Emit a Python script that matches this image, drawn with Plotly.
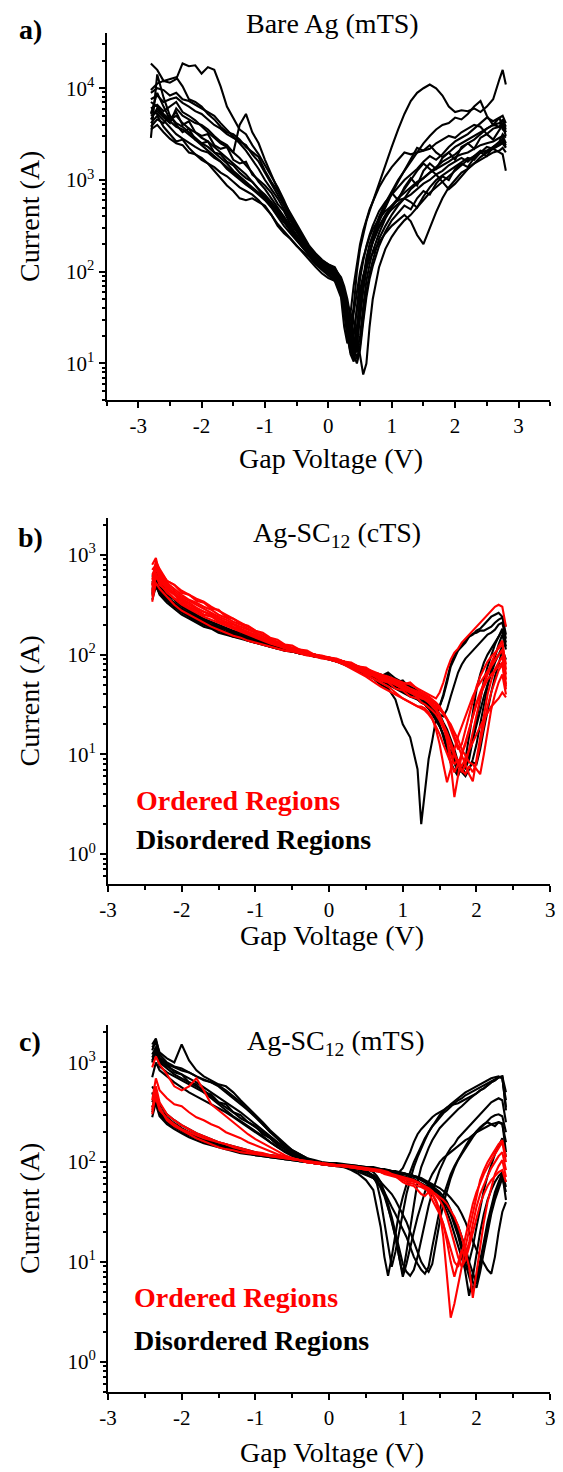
import math
import plotly.graph_objects as go

# ---------------- Panel a: Bare Ag (mTS) ----------------
a_voltage = [-2.8, -2.7, -2.6, -2.5, -2.4, -2.3, -2.2, -2.1, -2.0, -1.9, -1.8, -1.7, -1.6, -1.5,
             -1.4, -1.3, -1.2, -1.1, -1.0, -0.9, -0.8, -0.7, -0.6, -0.5, -0.4, -0.3, -0.2, -0.1,
             0.0, 0.1, 0.2, 0.25, 0.3, 0.35, 0.4, 0.45, 0.5, 0.55, 0.6, 0.65, 0.7,
             0.8, 0.9, 1.0, 1.1, 1.2, 1.3, 1.4, 1.5, 1.6, 1.7, 1.8, 1.9, 2.0, 2.1, 2.2, 2.3,
             2.4, 2.5, 2.6, 2.7, 2.75, 2.8]

# log10(current / A)
a_log_1 = [3.98, 4.05, 4.08, 4.06, 4.10, 4.27, 4.24, 4.25, 4.16, 4.23, 4.20, 4.02, 3.80, 3.68, 3.55, 3.50, 3.38, 3.28, 3.16, 3.05, 2.92, 2.78, 2.62, 2.50, 2.38, 2.26, 2.18, 2.12,
           2.08, 2.04, 1.90, 1.70, 1.45, 1.40, 1.62, 2.00, 2.25, 2.42, 2.55, 2.66, 2.76,
           2.98, 3.18, 3.36, 3.55, 3.72, 3.86, 3.95, 4.00, 4.04, 4.00, 3.92, 3.80, 3.74, 3.76, 3.75, 3.78, 3.74, 3.80, 3.88, 4.10, 4.20, 4.04]
a_log_2 = [4.27, 4.20, 4.08, 4.10, 4.12, 4.02, 3.88, 3.85, 3.80, 3.72, 3.66, 3.58, 3.52, 3.50, 3.44, 3.36, 3.30, 3.25, 3.10, 2.98, 2.88, 2.76, 2.64, 2.52, 2.40, 2.28, 2.20, 2.13,
           2.08, 2.05, 1.92, 1.80, 1.60, 1.30, 1.15, 1.35, 1.70, 1.95, 2.15, 2.30, 2.40,
           2.60, 2.75, 2.88, 3.00, 3.10, 3.20, 3.30, 3.40, 3.48, 3.55, 3.60, 3.62, 3.68, 3.66, 3.72, 3.80, 3.86, 3.70, 3.60, 3.68, 3.55, 3.52]
a_log_3 = [3.46, 4.15, 3.90, 3.70, 3.62, 3.58, 3.52, 3.46, 3.40, 3.36, 3.30, 3.24, 3.18, 3.10, 3.04, 2.98, 2.92, 2.85, 2.80, 2.72, 2.62, 2.54, 2.44, 2.35, 2.26, 2.18, 2.10, 2.04,
           1.98, 1.92, 1.75, 1.55, 1.30, 1.10, 1.02, 1.25, 1.60, 1.85, 2.05, 2.20, 2.32,
           2.50, 2.62, 2.72, 2.80, 2.86, 2.92, 2.98, 3.02, 3.08, 3.12, 3.16, 3.20, 3.25, 3.28, 3.30, 3.34, 3.38, 3.40, 3.42, 3.46, 3.48, 3.40]
a_log_4 = [3.62, 3.70, 3.58, 3.50, 3.42, 3.44, 3.35, 3.28, 3.24, 3.18, 3.10, 3.02, 2.94, 2.88, 2.80, 2.78, 2.80, 2.76, 2.72, 2.62, 2.50, 2.42, 2.36, 2.28, 2.22, 2.16, 2.08, 2.02,
           1.96, 1.90, 1.72, 1.40, 1.22, 1.30, 1.55, 1.80, 2.00, 2.15, 2.28, 2.38, 2.46,
           2.58, 2.66, 2.72, 2.78, 2.80, 2.76, 2.70, 2.82, 2.92, 3.00, 3.05, 3.10, 3.14, 3.20, 3.24, 3.22, 3.30, 3.36, 3.34, 3.38, 3.42, 3.36]
a_log_5 = [3.70, 3.75, 3.68, 3.62, 3.78, 3.70, 3.66, 3.62, 3.60, 3.55, 3.48, 3.42, 3.38, 3.30, 3.60, 3.72, 3.52, 3.40, 3.22, 3.05, 2.90, 2.74, 2.60, 2.48, 2.36, 2.24, 2.16, 2.10,
           2.06, 2.02, 1.88, 1.72, 1.50, 1.20, 1.08, 1.20, 1.50, 1.80, 2.02, 2.20, 2.34,
           2.55, 2.70, 2.85, 2.98, 3.10, 3.22, 3.35, 3.32, 3.38, 3.30, 3.25, 3.30, 3.36, 3.40, 3.44, 3.48, 3.52, 3.56, 3.60, 3.62, 3.65, 3.55]
a_log_6 = [3.55, 3.60, 3.52, 3.45, 3.40, 3.38, 3.30, 3.28, 3.22, 3.18, 3.14, 3.08, 3.04, 2.98, 2.92, 2.88, 2.84, 2.78, 2.70, 2.62, 2.52, 2.44, 2.36, 2.28, 2.20, 2.12, 2.05, 1.98,
           1.93, 1.90, 1.82, 1.75, 1.65, 1.55, 1.45, 1.30, 1.10, 0.88, 1.00, 1.40, 1.70,
           2.05, 2.25, 2.38, 2.48, 2.56, 2.62, 2.70, 2.78, 2.86, 2.92, 2.98, 3.04, 3.10, 3.16, 3.22, 3.26, 3.30, 3.32, 3.36, 3.38, 3.40, 3.35]
a_log_7 = [3.78, 3.82, 3.75, 3.80, 3.85, 3.74, 3.70, 3.65, 3.58, 3.52, 3.46, 3.40, 3.36, 3.30, 3.24, 3.16, 3.08, 2.98, 2.90, 2.80, 2.70, 2.60, 2.50, 2.40, 2.30, 2.22, 2.14, 2.08,
           2.03, 1.98, 1.85, 1.68, 1.45, 1.25, 1.35, 1.58, 1.80, 1.96, 2.06, 2.14, 2.20,
           2.32, 2.42, 2.50, 2.56, 2.62, 2.55, 2.40, 2.30, 2.48, 2.65, 2.80, 2.92, 3.00, 3.08, 3.12, 3.18, 3.22, 3.26, 3.30, 3.32, 3.35, 3.30]
a_log_8 = [3.88, 3.92, 3.85, 3.88, 3.90, 3.84, 3.80, 3.75, 3.72, 3.66, 3.60, 3.56, 3.50, 3.46, 3.42, 3.38, 3.28, 3.20, 3.08, 2.96, 2.84, 2.72, 2.58, 2.46, 2.34, 2.24, 2.16, 2.10,
           2.06, 2.03, 1.94, 1.84, 1.70, 1.50, 1.28, 1.12, 1.30, 1.62, 1.90, 2.08, 2.22,
           2.42, 2.58, 2.70, 2.80, 2.90, 3.00, 3.10, 3.18, 3.12, 3.06, 3.10, 3.16, 3.20, 3.24, 3.20, 3.26, 3.32, 3.30, 3.36, 3.40, 3.45, 3.38]
a_log_9 = [3.66, 3.78, 3.70, 3.64, 3.58, 3.55, 3.50, 3.44, 3.38, 3.32, 3.26, 3.20, 3.14, 3.08, 3.02, 2.96, 2.90, 2.84, 2.78, 2.70, 2.60, 2.50, 2.42, 2.34, 2.25, 2.18, 2.10, 2.04,
           2.00, 1.96, 1.84, 1.66, 1.40, 1.55, 1.85, 2.10, 2.30, 2.45, 2.58, 2.68, 2.76,
           2.92, 3.04, 3.14, 3.22, 3.30, 3.28, 3.30, 3.32, 3.34, 3.40, 3.44, 3.48, 3.46, 3.52, 3.56, 3.60, 3.58, 3.50, 3.56, 3.58, 3.62, 3.52]
a_log_10 = [3.75, 3.72, 3.65, 3.58, 3.50, 3.45, 3.40, 3.36, 3.32, 3.30, 3.24, 3.20, 3.12, 3.06, 3.00, 2.95, 2.90, 2.86, 2.82, 2.74, 2.64, 2.55, 2.46, 2.38, 2.28, 2.20, 2.12, 2.06,
            2.00, 1.96, 1.86, 1.74, 1.55, 1.35, 1.18, 1.40, 1.70, 1.92, 2.10, 2.22, 2.32,
            2.48, 2.60, 2.68, 2.74, 2.80, 2.84, 2.90, 2.96, 3.00, 3.06, 2.98, 2.90, 2.96, 3.04, 3.12, 3.18, 3.25, 3.30, 3.34, 3.30, 3.28, 3.10]
a_log_11 = [3.95, 4.00, 3.98, 3.92, 3.95, 3.88, 3.86, 3.82, 3.78, 3.74, 3.70, 3.62, 3.55, 3.48, 3.40, 3.32, 3.22, 3.12, 3.00, 2.90, 2.80, 2.68, 2.56, 2.44, 2.32, 2.22, 2.14, 2.08,
            2.04, 2.00, 1.88, 1.76, 1.58, 1.38, 1.20, 1.05, 1.20, 1.50, 1.78, 1.98, 2.12,
            2.36, 2.50, 2.62, 2.72, 2.80, 2.90, 2.96, 3.02, 3.08, 3.14, 3.20, 3.24, 3.28, 3.34, 3.40, 3.44, 3.50, 3.56, 3.60, 3.58, 3.66, 3.58]
a_log_12 = [3.85, 3.80, 3.72, 3.66, 3.70, 3.62, 3.56, 3.52, 3.46, 3.42, 3.36, 3.30, 3.24, 3.18, 3.12, 3.06, 2.98, 2.90, 2.84, 2.76, 2.68, 2.58, 2.48, 2.38, 2.30, 2.20, 2.12, 2.05,
            2.00, 1.94, 1.78, 1.58, 1.32, 1.12, 1.30, 1.65, 1.92, 2.12, 2.28, 2.40, 2.50,
            2.66, 2.76, 2.84, 2.92, 3.00, 3.06, 3.12, 3.20, 3.26, 3.22, 3.28, 3.36, 3.42, 3.46, 3.50, 3.56, 3.62, 3.68, 3.64, 3.68, 3.70, 3.62]
a_log_13 = [3.72, 3.95, 3.80, 3.66, 3.74, 3.60, 3.64, 3.52, 3.48, 3.50, 3.38, 3.34, 3.36, 3.22, 3.18, 3.20, 3.06, 3.00, 2.94, 2.86, 2.74, 2.66, 2.52, 2.44, 2.34, 2.24, 2.17, 2.11,
            2.06, 2.00, 1.84, 1.62, 1.38, 1.15, 1.05, 1.22, 1.55, 1.84, 2.06, 2.22, 2.36,
            2.55, 2.74, 2.86, 2.78, 2.92, 3.02, 2.94, 3.10, 3.18, 3.12, 3.24, 3.30, 3.22, 3.36, 3.40, 3.34, 3.46, 3.50, 3.44, 3.54, 3.60, 3.48]
a_log_14 = [3.58, 3.66, 3.62, 3.70, 3.60, 3.52, 3.56, 3.44, 3.40, 3.42, 3.30, 3.28, 3.20, 3.16, 3.08, 3.02, 2.98, 2.90, 2.80, 2.72, 2.66, 2.56, 2.46, 2.36, 2.27, 2.19, 2.12, 2.06,
            2.01, 1.97, 1.86, 1.70, 1.48, 1.28, 1.10, 1.00, 1.15, 1.45, 1.72, 1.92, 2.06,
            2.28, 2.44, 2.56, 2.64, 2.72, 2.68, 2.80, 2.88, 2.84, 2.96, 3.04, 3.00, 3.12, 3.18, 3.14, 3.24, 3.30, 3.26, 3.36, 3.42, 3.50, 3.46]

# ---------------- Panel b: Ag-SC12 (cTS) ----------------
b_voltage = [-2.4, -2.35, -2.3, -2.2, -2.1, -2.0, -1.9, -1.8, -1.7, -1.6, -1.5, -1.4, -1.3, -1.2,
             -1.1, -1.0, -0.9, -0.8, -0.7, -0.6, -0.5, -0.4, -0.3, -0.2, -0.1,
             0.0, 0.1, 0.2, 0.3, 0.4, 0.5, 0.6, 0.7, 0.8, 0.9, 1.0, 1.1, 1.2,
             1.25, 1.3, 1.35, 1.4, 1.45, 1.5, 1.55, 1.6, 1.65, 1.7, 1.75, 1.8, 1.85, 1.9,
             1.95, 2.0, 2.05, 2.1, 2.15, 2.2, 2.25, 2.3, 2.35, 2.4]

b_dis_1 = [2.72, 2.80, 2.68, 2.58, 2.52, 2.46, 2.42, 2.38, 2.34, 2.30, 2.28, 2.25, 2.22, 2.20, 2.18, 2.14, 2.12, 2.09, 2.07, 2.05, 2.04, 2.02, 2.00, 1.99, 1.98,
           1.96, 1.94, 1.92, 1.88, 1.85, 1.80, 1.76, 1.70, 1.66, 1.55, 1.30, 1.17, 0.85,
           0.30, 0.60, 0.95, 1.14, 1.35, 1.48, 1.58, 1.72, 1.88, 1.96, 2.04, 2.08, 2.12, 2.18, 2.21, 2.22, 2.24, 2.24, 2.26, 2.28, 2.32, 2.35, 2.37, 2.28]
b_dis_2 = [2.78, 2.85, 2.75, 2.62, 2.56, 2.50, 2.45, 2.40, 2.36, 2.33, 2.30, 2.27, 2.24, 2.22, 2.19, 2.16, 2.13, 2.10, 2.08, 2.06, 2.04, 2.03, 2.01, 2.00, 1.98,
           1.97, 1.95, 1.92, 1.90, 1.86, 1.83, 1.80, 1.76, 1.78, 1.72, 1.68, 1.62, 1.58,
           1.55, 1.52, 1.48, 1.45, 1.42, 1.48, 1.60, 1.75, 1.90, 2.00, 2.05, 2.10, 2.14, 2.18, 2.20, 2.24, 2.26, 2.30, 2.34, 2.38, 2.40, 2.42, 2.38, 2.20]
b_dis_3 = [2.62, 2.70, 2.60, 2.52, 2.46, 2.40, 2.36, 2.32, 2.28, 2.26, 2.22, 2.20, 2.18, 2.16, 2.14, 2.12, 2.10, 2.08, 2.06, 2.04, 2.03, 2.01, 2.00, 1.98, 1.97,
           1.96, 1.94, 1.92, 1.90, 1.87, 1.84, 1.81, 1.78, 1.76, 1.72, 1.70, 1.66, 1.62,
           1.60, 1.56, 1.54, 1.50, 1.44, 1.38, 1.30, 1.20, 1.10, 0.95, 0.80, 0.85, 0.90, 1.00, 1.15, 1.30, 1.45, 1.58, 1.70, 1.82, 1.92, 2.00, 2.08, 2.10]
b_dis_4 = [2.66, 2.75, 2.65, 2.56, 2.50, 2.45, 2.40, 2.36, 2.32, 2.29, 2.26, 2.23, 2.21, 2.19, 2.16, 2.14, 2.11, 2.09, 2.07, 2.05, 2.03, 2.02, 2.00, 1.99, 1.97,
           1.95, 1.93, 1.91, 1.88, 1.86, 1.82, 1.80, 1.78, 1.82, 1.76, 1.72, 1.68, 1.64,
           1.60, 1.58, 1.55, 1.50, 1.46, 1.40, 1.32, 1.25, 1.15, 1.05, 0.92, 0.85, 0.95, 1.20, 1.45, 1.65, 1.80, 1.92, 2.00, 2.06, 2.12, 2.18, 2.26, 2.12]
b_dis_5 = [2.55, 2.68, 2.62, 2.54, 2.48, 2.42, 2.38, 2.33, 2.30, 2.27, 2.24, 2.21, 2.18, 2.17, 2.14, 2.12, 2.10, 2.08, 2.06, 2.05, 2.03, 2.01, 2.00, 1.98, 1.97,
           1.95, 1.93, 1.90, 1.87, 1.83, 1.80, 1.77, 1.74, 1.70, 1.66, 1.62, 1.58, 1.55,
           1.52, 1.50, 1.46, 1.42, 1.36, 1.28, 1.20, 1.10, 1.00, 0.90, 0.82, 0.88, 0.80, 0.86, 0.92, 0.90, 1.05, 1.25, 1.45, 1.62, 1.78, 1.90, 2.05, 1.95]
b_dis_6 = [2.70, 2.78, 2.70, 2.60, 2.55, 2.48, 2.44, 2.39, 2.35, 2.32, 2.28, 2.26, 2.23, 2.20, 2.18, 2.15, 2.13, 2.10, 2.08, 2.06, 2.04, 2.02, 2.01, 1.99, 1.98,
           1.96, 1.95, 1.93, 1.90, 1.88, 1.85, 1.82, 1.80, 1.77, 1.74, 1.70, 1.66, 1.60,
           1.56, 1.52, 1.50, 1.48, 1.44, 1.40, 1.38, 1.45, 1.58, 1.70, 1.82, 1.90, 1.96, 2.00, 2.04, 2.08, 2.12, 2.16, 2.20, 2.22, 2.25, 2.30, 2.32, 2.16]
b_dis_7 = [2.64, 2.74, 2.66, 2.58, 2.50, 2.44, 2.38, 2.34, 2.31, 2.28, 2.25, 2.22, 2.20, 2.18, 2.16, 2.13, 2.11, 2.09, 2.07, 2.05, 2.03, 2.02, 2.00, 1.99, 1.97,
           1.96, 1.94, 1.91, 1.88, 1.85, 1.82, 1.78, 1.75, 1.72, 1.68, 1.64, 1.60, 1.55,
           1.52, 1.50, 1.46, 1.40, 1.34, 1.28, 1.20, 1.10, 1.02, 0.95, 0.88, 0.82, 0.78, 0.85, 0.95, 1.10, 1.30, 1.50, 1.68, 1.85, 1.98, 2.10, 2.20, 2.05]
b_dis_8 = [2.60, 2.76, 2.64, 2.55, 2.52, 2.44, 2.42, 2.35, 2.33, 2.28, 2.27, 2.22, 2.21, 2.17, 2.16, 2.12, 2.11, 2.08, 2.07, 2.04, 2.04, 2.01, 2.00, 1.98, 1.97,
           1.96, 1.93, 1.92, 1.88, 1.87, 1.82, 1.82, 1.76, 1.80, 1.72, 1.74, 1.66, 1.62,
           1.58, 1.55, 1.50, 1.44, 1.38, 1.30, 1.18, 1.05, 0.92, 0.84, 0.78, 0.90, 0.86, 0.95, 1.15, 1.38, 1.58, 1.74, 1.88, 2.00, 2.10, 2.18, 2.24, 2.08]

b_ord_1 = [2.90, 2.97, 2.80, 2.70, 2.64, 2.58, 2.54, 2.50, 2.46, 2.42, 2.38, 2.35, 2.31, 2.28, 2.25, 2.22, 2.18, 2.14, 2.11, 2.08, 2.06, 2.04, 2.02, 2.00, 1.98,
           1.96, 1.95, 1.93, 1.91, 1.88, 1.86, 1.83, 1.80, 1.78, 1.75, 1.72, 1.70, 1.66,
           1.64, 1.62, 1.60, 1.58, 1.56, 1.62, 1.72, 1.85, 1.95, 2.02, 2.06, 2.12, 2.16, 2.20, 2.24, 2.28, 2.32, 2.36, 2.40, 2.44, 2.48, 2.50, 2.48, 2.28]
b_ord_2 = [2.58, 2.80, 2.74, 2.66, 2.60, 2.52, 2.48, 2.44, 2.40, 2.38, 2.34, 2.30, 2.27, 2.24, 2.21, 2.18, 2.15, 2.12, 2.09, 2.07, 2.05, 2.03, 2.01, 1.99, 1.98,
           1.96, 1.94, 1.92, 1.88, 1.85, 1.80, 1.76, 1.72, 1.68, 1.62, 1.56, 1.52, 1.48,
           1.48, 1.46, 1.42, 1.36, 1.25, 1.10, 0.90, 0.72, 0.85, 1.05, 1.18, 1.28, 1.40, 1.50, 1.58, 1.66, 1.72, 1.78, 1.84, 1.90, 1.95, 2.00, 2.04, 1.80]
b_ord_3 = [2.75, 2.92, 2.82, 2.72, 2.66, 2.60, 2.55, 2.52, 2.48, 2.45, 2.40, 2.37, 2.33, 2.30, 2.26, 2.22, 2.18, 2.15, 2.12, 2.09, 2.06, 2.04, 2.02, 2.00, 1.98,
           1.97, 1.95, 1.93, 1.90, 1.87, 1.84, 1.80, 1.78, 1.74, 1.70, 1.66, 1.62, 1.60,
           1.58, 1.56, 1.54, 1.50, 1.46, 1.40, 1.30, 1.15, 0.90, 0.57, 0.80, 1.00, 1.10, 1.25, 1.40, 1.52, 1.62, 1.72, 1.80, 1.88, 1.94, 2.00, 2.05, 1.75]
b_ord_4 = [2.68, 2.86, 2.78, 2.68, 2.62, 2.56, 2.52, 2.47, 2.43, 2.40, 2.36, 2.33, 2.30, 2.26, 2.23, 2.20, 2.16, 2.13, 2.10, 2.08, 2.05, 2.03, 2.01, 1.99, 1.97,
           1.96, 1.94, 1.92, 1.89, 1.86, 1.83, 1.81, 1.78, 1.75, 1.72, 1.68, 1.64, 1.62,
           1.60, 1.58, 1.56, 1.54, 1.50, 1.46, 1.42, 1.36, 1.28, 1.18, 1.08, 0.98, 0.88, 0.80, 0.73, 0.95, 1.20, 1.42, 1.60, 1.74, 1.85, 1.92, 1.98, 1.70]
b_ord_5 = [2.62, 2.78, 2.72, 2.62, 2.56, 2.50, 2.46, 2.42, 2.38, 2.35, 2.32, 2.29, 2.26, 2.23, 2.20, 2.17, 2.14, 2.11, 2.09, 2.06, 2.04, 2.02, 2.00, 1.98, 1.97,
           1.95, 1.93, 1.91, 1.88, 1.84, 1.82, 1.79, 1.76, 1.74, 1.70, 1.66, 1.62, 1.58,
           1.56, 1.55, 1.52, 1.50, 1.48, 1.45, 1.40, 1.36, 1.30, 1.22, 1.15, 1.05, 0.98, 0.92, 0.90, 0.85, 0.80, 1.00, 1.25, 1.45, 1.60, 1.72, 1.80, 1.60]
b_ord_6 = [2.85, 2.90, 2.76, 2.66, 2.60, 2.55, 2.50, 2.46, 2.43, 2.40, 2.36, 2.32, 2.28, 2.25, 2.22, 2.19, 2.16, 2.13, 2.10, 2.07, 2.05, 2.03, 2.01, 1.99, 1.97,
           1.96, 1.94, 1.91, 1.88, 1.85, 1.82, 1.79, 1.76, 1.73, 1.70, 1.66, 1.63, 1.60,
           1.57, 1.55, 1.52, 1.48, 1.44, 1.38, 1.30, 1.22, 1.12, 1.02, 0.92, 0.88, 0.96, 1.05, 1.12, 1.20, 1.28, 1.35, 1.42, 1.48, 1.52, 1.56, 1.62, 1.57]
b_ord_7 = [2.53, 2.72, 2.66, 2.58, 2.50, 2.44, 2.40, 2.36, 2.32, 2.28, 2.25, 2.22, 2.19, 2.17, 2.14, 2.12, 2.10, 2.08, 2.06, 2.04, 2.03, 2.01, 1.99, 1.98, 1.96,
           1.95, 1.93, 1.90, 1.86, 1.82, 1.78, 1.73, 1.68, 1.64, 1.60, 1.56, 1.52, 1.48,
           1.46, 1.44, 1.40, 1.35, 1.28, 1.20, 1.10, 1.00, 0.92, 0.82, 0.90, 1.00, 1.12, 1.25, 1.38, 1.50, 1.60, 1.68, 1.75, 1.80, 1.84, 1.88, 1.92, 1.65]
b_ord_8 = [2.80, 2.88, 2.84, 2.74, 2.70, 2.64, 2.60, 2.56, 2.53, 2.48, 2.44, 2.40, 2.36, 2.32, 2.28, 2.24, 2.20, 2.16, 2.13, 2.10, 2.07, 2.05, 2.02, 2.00, 1.98,
           1.97, 1.95, 1.93, 1.90, 1.87, 1.84, 1.81, 1.78, 1.75, 1.73, 1.70, 1.66, 1.63,
           1.62, 1.60, 1.58, 1.55, 1.52, 1.48, 1.42, 1.35, 1.25, 1.15, 1.05, 1.10, 1.25, 1.40, 1.55, 1.68, 1.78, 1.86, 1.93, 1.98, 2.02, 2.06, 2.10, 1.90]
b_ord_9 = [2.70, 2.94, 2.86, 2.74, 2.70, 2.62, 2.60, 2.54, 2.52, 2.46, 2.45, 2.38, 2.36, 2.31, 2.29, 2.24, 2.22, 2.17, 2.15, 2.10, 2.09, 2.05, 2.04, 2.00, 1.99,
           1.97, 1.96, 1.93, 1.92, 1.88, 1.87, 1.82, 1.80, 1.76, 1.74, 1.70, 1.72, 1.65,
           1.62, 1.60, 1.56, 1.52, 1.46, 1.38, 1.28, 1.15, 1.00, 0.90, 0.95, 0.82, 0.90, 1.05, 1.22, 1.40, 1.56, 1.70, 1.82, 1.92, 2.00, 2.08, 2.14, 1.85]
b_ord_10 = [2.64, 2.82, 2.70, 2.64, 2.56, 2.54, 2.47, 2.45, 2.40, 2.39, 2.33, 2.32, 2.27, 2.26, 2.21, 2.20, 2.15, 2.14, 2.10, 2.09, 2.05, 2.04, 2.01, 2.00, 1.97,
            1.96, 1.93, 1.92, 1.87, 1.86, 1.80, 1.79, 1.74, 1.72, 1.66, 1.64, 1.58, 1.56,
            1.52, 1.50, 1.47, 1.44, 1.40, 1.34, 1.26, 1.18, 1.08, 0.98, 0.90, 0.84, 0.80, 0.88, 0.82, 0.92, 1.10, 1.30, 1.48, 1.62, 1.74, 1.84, 1.90, 1.68]

# ---------------- Panel c: Ag-SC12 (mTS) ----------------
c_voltage = [-2.4, -2.35, -2.3, -2.2, -2.1, -2.0, -1.9, -1.8, -1.7, -1.6, -1.5, -1.4, -1.3, -1.2,
             -1.1, -1.0, -0.9, -0.8, -0.7, -0.6, -0.5, -0.4, -0.3, -0.2, -0.1,
             0.0, 0.1, 0.2, 0.3, 0.4, 0.5,
             0.6, 0.65, 0.7, 0.75, 0.8, 0.85, 0.9, 0.95, 1.0, 1.05, 1.1, 1.15, 1.2, 1.25,
             1.3, 1.35, 1.4, 1.45, 1.5,
             1.55, 1.6, 1.65, 1.7, 1.75, 1.8, 1.85, 1.9, 1.95, 2.0, 2.05, 2.1, 2.15, 2.2,
             2.25, 2.3, 2.35, 2.4]

c_dis_1 = [3.12, 3.22, 3.10, 3.04, 3.00, 3.18, 3.02, 2.92, 2.86, 2.82, 2.78, 2.76, 2.70, 2.62, 2.55, 2.48, 2.40, 2.32, 2.25, 2.18, 2.12, 2.08, 2.04, 2.02, 2.00,
           1.99, 1.99, 1.98, 1.97, 1.96, 1.94,
           1.90, 1.86, 1.80, 1.70, 1.55, 1.40, 1.25, 1.05, 0.88, 1.10, 1.35, 1.60, 1.80, 1.95, 2.05, 2.14, 2.22, 2.28, 2.34,
           2.38, 2.42, 2.46, 2.50, 2.53, 2.56, 2.60, 2.63, 2.66, 2.69, 2.72, 2.74, 2.77, 2.80, 2.82, 2.85, 2.86, 2.70]
c_dis_2 = [3.08, 3.15, 3.05, 2.98, 2.95, 2.92, 2.90, 2.86, 2.82, 2.80, 2.77, 2.72, 2.66, 2.60, 2.52, 2.46, 2.38, 2.30, 2.24, 2.17, 2.12, 2.08, 2.04, 2.01, 1.99,
           1.98, 1.98, 1.97, 1.96, 1.95, 1.94,
           1.93, 1.92, 1.91, 1.90, 1.90, 1.89, 1.89, 1.90, 1.94, 2.02, 2.10, 2.20, 2.28, 2.33, 2.37, 2.42, 2.45, 2.48, 2.50,
           2.52, 2.55, 2.57, 2.58, 2.59, 2.61, 2.63, 2.65, 2.67, 2.69, 2.72, 2.74, 2.77, 2.80, 2.82, 2.85, 2.86, 2.52]
c_dis_3 = [3.15, 3.20, 3.02, 2.96, 2.92, 2.88, 2.84, 2.80, 2.75, 2.70, 2.65, 2.60, 2.55, 2.50, 2.44, 2.38, 2.32, 2.26, 2.20, 2.15, 2.10, 2.06, 2.03, 2.01, 1.99,
           1.98, 1.97, 1.97, 1.96, 1.94, 1.92,
           1.86, 1.78, 1.62, 1.40, 1.15, 0.95, 1.10, 1.30, 1.50, 1.68, 1.82, 1.95, 2.05, 2.14, 2.22, 2.30, 2.36, 2.42, 2.47,
           2.51, 2.55, 2.58, 2.61, 2.64, 2.67, 2.70, 2.72, 2.74, 2.76, 2.78, 2.80, 2.82, 2.84, 2.85, 2.86, 2.84, 2.62]
c_dis_4 = [3.05, 3.12, 3.00, 2.94, 2.88, 2.84, 2.80, 2.76, 2.72, 2.66, 2.60, 2.55, 2.50, 2.44, 2.40, 2.35, 2.30, 2.24, 2.18, 2.13, 2.09, 2.05, 2.02, 2.00, 1.99,
           1.98, 1.97, 1.96, 1.94, 1.92, 1.88,
           1.84, 1.80, 1.76, 1.70, 1.62, 1.55, 1.48, 1.40, 1.32, 1.25, 1.15, 1.05, 0.98, 0.92, 0.88, 0.95, 1.15, 1.35, 1.52,
           1.66, 1.78, 1.88, 1.96, 2.03, 2.10, 2.16, 2.22, 2.27, 2.31, 2.35, 2.38, 2.40, 2.38, 2.36, 2.40, 2.39, 2.10]
c_dis_5 = [3.02, 3.10, 2.96, 2.90, 2.86, 2.82, 2.78, 2.74, 2.70, 2.64, 2.58, 2.52, 2.46, 2.41, 2.36, 2.31, 2.26, 2.20, 2.15, 2.11, 2.07, 2.04, 2.02, 2.00, 1.98,
           1.97, 1.97, 1.96, 1.95, 1.93, 1.90,
           1.87, 1.84, 1.80, 1.76, 1.72, 1.68, 1.62, 1.55, 1.48, 1.40, 1.30, 1.20, 1.10, 1.00, 0.94, 0.90, 0.98, 1.20, 1.40,
           1.58, 1.72, 1.84, 1.94, 2.02, 2.08, 2.14, 2.20, 2.25, 2.30, 2.34, 2.38, 2.42, 2.45, 2.47, 2.48, 2.46, 2.30]
c_dis_6 = [3.18, 3.24, 3.08, 3.00, 2.96, 2.94, 2.90, 2.86, 2.83, 2.80, 2.76, 2.70, 2.64, 2.58, 2.52, 2.45, 2.38, 2.30, 2.23, 2.16, 2.11, 2.07, 2.03, 2.01, 1.99,
           1.98, 1.97, 1.95, 1.92, 1.88, 1.82,
           1.72, 1.55, 1.35, 1.05, 0.86, 1.05, 1.30, 1.50, 1.65, 1.78, 1.90, 2.00, 2.08, 2.16, 2.24, 2.30, 2.36, 2.40, 2.45,
           2.49, 2.52, 2.56, 2.59, 2.62, 2.64, 2.67, 2.69, 2.71, 2.73, 2.75, 2.77, 2.79, 2.81, 2.83, 2.85, 2.85, 2.55]
c_dis_7 = [2.85, 3.00, 2.92, 2.86, 2.80, 2.75, 2.70, 2.66, 2.62, 2.58, 2.54, 2.50, 2.45, 2.40, 2.35, 2.30, 2.25, 2.20, 2.15, 2.10, 2.06, 2.03, 2.01, 1.99, 1.98,
           1.97, 1.96, 1.95, 1.93, 1.90, 1.87,
           1.84, 1.80, 1.74, 1.66, 1.55, 1.42, 1.25, 1.05, 0.85, 0.98, 1.15, 1.30, 1.45, 1.58, 1.70, 1.80, 1.88, 1.94, 2.00,
           2.04, 2.07, 2.10, 2.13, 2.16, 2.19, 2.22, 2.24, 2.27, 2.30, 2.32, 2.34, 2.36, 2.38, 2.39, 2.40, 2.38, 2.20]
c_dis_8 = [2.50, 2.62, 2.48, 2.40, 2.35, 2.31, 2.27, 2.24, 2.21, 2.18, 2.16, 2.14, 2.12, 2.10, 2.09, 2.07, 2.06, 2.05, 2.04, 2.03, 2.02, 2.01, 2.00, 1.99, 1.98,
           1.98, 1.97, 1.97, 1.96, 1.95, 1.94,
           1.93, 1.92, 1.92, 1.91, 1.90, 1.90, 1.89, 1.88, 1.88, 1.87, 1.86, 1.85, 1.84, 1.82, 1.80, 1.78, 1.76, 1.73, 1.70,
           1.66, 1.60, 1.52, 1.42, 1.30, 1.12, 0.90, 0.66, 0.85, 1.10, 1.30, 1.48, 1.62, 1.72, 1.80, 1.86, 1.90, 1.80]
c_dis_9 = [2.76, 2.70, 2.58, 2.48, 2.42, 2.37, 2.33, 2.29, 2.26, 2.23, 2.20, 2.18, 2.16, 2.14, 2.12, 2.10, 2.08, 2.07, 2.06, 2.04, 2.03, 2.02, 2.01, 2.00, 1.99,
           1.98, 1.98, 1.97, 1.96, 1.96, 1.95,
           1.94, 1.94, 1.93, 1.92, 1.92, 1.91, 1.90, 1.90, 1.89, 1.88, 1.87, 1.86, 1.84, 1.82, 1.80, 1.77, 1.74, 1.70, 1.66,
           1.60, 1.55, 1.48, 1.40, 1.30, 1.18, 1.05, 0.92, 0.80, 0.74, 0.90, 1.10, 1.30, 1.48, 1.62, 1.74, 1.84, 1.70]
c_dis_10 = [2.60, 2.68, 2.52, 2.44, 2.38, 2.33, 2.29, 2.26, 2.23, 2.20, 2.18, 2.15, 2.13, 2.12, 2.10, 2.09, 2.07, 2.06, 2.05, 2.04, 2.03, 2.02, 2.01, 2.00, 1.99,
            1.98, 1.98, 1.97, 1.97, 1.96, 1.95,
            1.95, 1.94, 1.93, 1.93, 1.92, 1.91, 1.91, 1.90, 1.89, 1.88, 1.87, 1.86, 1.85, 1.84, 1.82, 1.80, 1.78, 1.76, 1.74,
            1.71, 1.68, 1.64, 1.60, 1.55, 1.48, 1.40, 1.30, 1.20, 1.12, 1.05, 0.98, 0.92, 0.88, 1.05, 1.30, 1.50, 1.60]
c_dis_11 = [2.70, 2.58, 2.46, 2.38, 2.33, 2.29, 2.25, 2.22, 2.19, 2.17, 2.15, 2.13, 2.11, 2.09, 2.08, 2.07, 2.06, 2.05, 2.04, 2.03, 2.02, 2.01, 2.00, 1.99, 1.98,
            1.97, 1.97, 1.96, 1.95, 1.94, 1.93,
            1.92, 1.91, 1.90, 1.89, 1.88, 1.87, 1.86, 1.85, 1.84, 1.83, 1.82, 1.81, 1.80, 1.78, 1.76, 1.74, 1.72, 1.68, 1.64,
            1.58, 1.50, 1.40, 1.28, 1.15, 1.02, 0.92, 1.00, 1.15, 1.35, 1.55, 1.72, 1.86, 1.98, 2.08, 2.16, 2.24, 2.05]
c_dis_12 = [2.55, 2.66, 2.54, 2.45, 2.39, 2.34, 2.30, 2.27, 2.24, 2.21, 2.19, 2.16, 2.14, 2.12, 2.11, 2.09, 2.08, 2.06, 2.05, 2.04, 2.03, 2.02, 2.01, 2.00, 1.99,
            1.98, 1.97, 1.96, 1.96, 1.95, 1.94,
            1.93, 1.92, 1.91, 1.91, 1.90, 1.89, 1.88, 1.87, 1.86, 1.85, 1.84, 1.83, 1.81, 1.79, 1.77, 1.75, 1.72, 1.69, 1.65,
            1.61, 1.56, 1.50, 1.44, 1.36, 1.26, 1.14, 1.00, 0.88, 0.78, 0.95, 1.15, 1.35, 1.52, 1.66, 1.78, 1.90, 1.75]
c_dis_13 = [3.00, 3.16, 3.04, 2.98, 2.90, 2.88, 2.80, 2.78, 2.70, 2.68, 2.60, 2.58, 2.50, 2.47, 2.40, 2.36, 2.28, 2.24, 2.17, 2.13, 2.08, 2.06, 2.02, 2.01, 1.99,
            1.98, 1.98, 1.97, 1.95, 1.93, 1.90,
            1.86, 1.82, 1.76, 1.68, 1.58, 1.45, 1.30, 1.12, 0.98, 0.90, 0.86, 0.92, 1.05, 1.22, 1.40, 1.56, 1.70, 1.82, 1.92,
            2.00, 2.08, 2.14, 2.18, 2.24, 2.28, 2.32, 2.36, 2.40, 2.44, 2.48, 2.52, 2.56, 2.60, 2.62, 2.64, 2.62, 2.40]
c_dis_14 = [2.45, 2.60, 2.50, 2.42, 2.38, 2.32, 2.30, 2.25, 2.23, 2.19, 2.18, 2.14, 2.13, 2.10, 2.10, 2.07, 2.07, 2.05, 2.05, 2.03, 2.03, 2.01, 2.01, 1.99, 1.99,
            1.98, 1.97, 1.97, 1.96, 1.95, 1.94,
            1.93, 1.93, 1.92, 1.92, 1.91, 1.90, 1.90, 1.89, 1.89, 1.88, 1.87, 1.86, 1.85, 1.83, 1.81, 1.79, 1.76, 1.72, 1.68,
            1.62, 1.56, 1.48, 1.38, 1.26, 1.12, 0.98, 0.85, 0.72, 0.82, 1.00, 1.20, 1.40, 1.56, 1.70, 1.80, 1.88, 1.62]

c_ord_1 = [2.95, 3.06, 2.98, 2.88, 2.76, 2.72, 2.76, 2.84, 2.72, 2.58, 2.52, 2.46, 2.40, 2.34, 2.28, 2.23, 2.19, 2.15, 2.11, 2.07, 2.04, 2.02, 2.00, 1.99, 1.98,
           1.98, 1.97, 1.96, 1.95, 1.94, 1.93,
           1.92, 1.91, 1.90, 1.89, 1.88, 1.87, 1.86, 1.85, 1.84, 1.83, 1.82, 1.81, 1.80, 1.78, 1.74, 1.70, 1.68, 1.62, 1.52,
           1.25, 0.85, 0.44, 0.58, 0.75, 0.95, 1.15, 1.32, 1.50, 1.68, 1.82, 1.92, 2.00, 2.06, 2.12, 2.18, 2.22, 2.05]
c_ord_2 = [2.62, 2.84, 2.72, 2.64, 2.58, 2.56, 2.50, 2.45, 2.42, 2.38, 2.35, 2.30, 2.27, 2.24, 2.20, 2.17, 2.14, 2.11, 2.08, 2.06, 2.04, 2.02, 2.00, 1.99, 1.98,
           1.97, 1.97, 1.96, 1.95, 1.94, 1.93,
           1.92, 1.91, 1.90, 1.89, 1.88, 1.87, 1.86, 1.84, 1.82, 1.80, 1.79, 1.78, 1.76, 1.75, 1.73, 1.72, 1.70, 1.68, 1.65,
           1.62, 1.58, 1.52, 1.45, 1.36, 1.25, 1.10, 0.95, 0.64, 0.90, 1.15, 1.40, 1.60, 1.75, 1.88, 1.96, 2.02, 1.85]
c_ord_3 = [2.48, 2.70, 2.55, 2.42, 2.36, 2.32, 2.28, 2.24, 2.21, 2.18, 2.15, 2.13, 2.12, 2.10, 2.09, 2.08, 2.07, 2.06, 2.05, 2.04, 2.03, 2.02, 2.01, 2.00, 1.99,
           1.98, 1.97, 1.97, 1.96, 1.95, 1.94,
           1.93, 1.93, 1.92, 1.91, 1.90, 1.88, 1.86, 1.83, 1.80, 1.78, 1.77, 1.76, 1.72, 1.68, 1.66, 1.70, 1.62, 1.55, 1.48,
           1.38, 1.25, 1.12, 1.00, 0.95, 1.08, 1.25, 1.42, 1.58, 1.70, 1.80, 1.88, 1.95, 2.02, 2.08, 2.14, 2.20, 2.00]
c_ord_4 = [2.55, 2.64, 2.52, 2.44, 2.38, 2.33, 2.30, 2.27, 2.24, 2.22, 2.20, 2.18, 2.16, 2.14, 2.12, 2.10, 2.09, 2.07, 2.06, 2.05, 2.03, 2.02, 2.01, 2.00, 1.99,
           1.98, 1.97, 1.96, 1.96, 1.95, 1.94,
           1.93, 1.92, 1.91, 1.90, 1.89, 1.88, 1.87, 1.86, 1.85, 1.84, 1.83, 1.82, 1.80, 1.78, 1.76, 1.74, 1.71, 1.67, 1.62,
           1.55, 1.45, 1.32, 1.18, 1.05, 0.95, 1.02, 1.15, 1.30, 1.45, 1.58, 1.68, 1.76, 1.82, 1.86, 1.90, 1.92, 1.80]
c_ord_5 = [2.52, 2.76, 2.60, 2.48, 2.42, 2.37, 2.33, 2.29, 2.26, 2.23, 2.20, 2.18, 2.15, 2.13, 2.11, 2.09, 2.08, 2.06, 2.05, 2.04, 2.03, 2.02, 2.00, 1.99, 1.98,
           1.97, 1.96, 1.96, 1.95, 1.94, 1.93,
           1.92, 1.91, 1.90, 1.88, 1.87, 1.86, 1.85, 1.84, 1.83, 1.82, 1.81, 1.80, 1.79, 1.77, 1.75, 1.72, 1.68, 1.60, 1.50,
           1.38, 1.20, 1.00, 0.85, 0.98, 1.12, 1.06, 1.20, 1.38, 1.55, 1.68, 1.78, 1.86, 1.94, 2.00, 2.06, 2.10, 1.92]

# ---------------- text ----------------
panel_titles = ["Bare Ag (mTS)", "Ag-SC<sub>12</sub> (cTS)", "Ag-SC<sub>12</sub> (mTS)"]
panel_letters = ["a)", "b)", "c)"]
x_title = "Gap Voltage (V)"
y_title = "Current (A)"
legend_ordered = "Ordered Regions"
legend_disordered = "Disordered Regions"

# ---------------- figure ----------------
W, H = 563, 1472
FONT = "Times New Roman"
RED = "#ff0000"
BLACK = "#000000"


def px(x):
    return x / W


def py(y):
    return 1 - y / H


panels = [
    dict(v=a_voltage,
         black=[a_log_1, a_log_2, a_log_3, a_log_4, a_log_5, a_log_6, a_log_7, a_log_8,
                a_log_9, a_log_10, a_log_11, a_log_12, a_log_13, a_log_14],
         red=[]),
    dict(v=b_voltage,
         black=[b_dis_1, b_dis_2, b_dis_3, b_dis_4, b_dis_5, b_dis_6, b_dis_7, b_dis_8],
         red=[b_ord_1, b_ord_2, b_ord_3, b_ord_4, b_ord_5, b_ord_6, b_ord_7, b_ord_8,
              b_ord_9, b_ord_10]),
    dict(v=c_voltage,
         black=[c_dis_1, c_dis_2, c_dis_3, c_dis_4, c_dis_5, c_dis_6, c_dis_7, c_dis_8,
                c_dis_9, c_dis_10, c_dis_11, c_dis_12, c_dis_13, c_dis_14],
         red=[c_ord_1, c_ord_2, c_ord_3, c_ord_4, c_ord_5]),
]

fig = go.Figure()
for i, p in enumerate(panels):
    xa = "x" if i == 0 else f"x{i+1}"
    ya = "y" if i == 0 else f"y{i+1}"
    for color, group in ((BLACK, p["black"]), (RED, p["red"])):
        for curve in group:
            if len(curve) != len(p["v"]):
                raise ValueError(f"panel {i} length {len(curve)} vs {len(p['v'])}")
            fig.add_trace(go.Scatter(
                x=p["v"], y=[10 ** c for c in curve], mode="lines",
                line=dict(color=color, width=2.1), xaxis=xa, yaxis=ya,
                showlegend=False, hoverinfo="skip"))

# geometry (pixels)
plot_left = [100, 101.5, 101.5]
plot_right = [555, 555, 555]
plot_top = [33, 518, 1025]
plot_bottom = [400, 884, 1392]
x_ranges = [[-3.5, 3.5], [-3, 3], [-3, 3]]
y_ranges = [[0.602, 4.602], [-0.301, 3.37], [-0.305, 3.375]]
y_decades = [[1, 2, 3, 4], [0, 1, 2, 3], [0, 1, 2, 3]]
x_majors = [[-3, -2, -1, 0, 1, 2, 3], [-3, -2, -1, 0, 1, 2, 3], [-3, -2, -1, 0, 1, 2, 3]]
x_minors = [[-3.5, -2.5, -1.5, -0.5, 0.5, 1.5, 2.5, 3.5],
            [-2.5, -1.5, -0.5, 0.5, 1.5, 2.5],
            [-2.5, -1.5, -0.5, 0.5, 1.5, 2.5]]

tickfont = dict(family=FONT, size=21, color="black")
layout_axes = {}
for i in range(3):
    xk = "xaxis" if i == 0 else f"xaxis{i+1}"
    yk = "yaxis" if i == 0 else f"yaxis{i+1}"
    xa = "x" if i == 0 else f"x{i+1}"
    ya = "y" if i == 0 else f"y{i+1}"
    lo, hi = y_ranges[i]
    minor_vals = []
    for e in range(int(math.floor(lo)) - 1, int(hi) + 2):
        for m in range(2, 10):
            val = m * 10 ** e
            if lo <= math.log10(val) <= hi:
                minor_vals.append(val)
    layout_axes[xk] = dict(
        domain=[px(plot_left[i]), px(plot_right[i])], anchor=ya, range=x_ranges[i],
        tickmode="array", tickvals=x_majors[i], ticktext=[str(v) for v in x_majors[i]],
        ticks="outside", ticklen=6, tickwidth=2, tickcolor="black",
        minor=dict(tickmode="array", tickvals=x_minors[i], ticks="outside", ticklen=4,
                   tickwidth=2, tickcolor="black"),
        showline=True, linewidth=2, linecolor="black", mirror=False,
        showgrid=False, zeroline=False, tickfont=tickfont, fixedrange=True)
    layout_axes[yk] = dict(
        domain=[py(plot_bottom[i]), py(plot_top[i])], anchor=xa, type="log", range=y_ranges[i],
        tickmode="array", tickvals=[10 ** d for d in y_decades[i]],
        ticktext=[f"10<sup>{d}</sup>" for d in y_decades[i]],
        ticks="outside", ticklen=6, tickwidth=2, tickcolor="black",
        minor=dict(tickmode="array", tickvals=minor_vals, ticks="outside", ticklen=3,
                   tickwidth=1.5, tickcolor="black"),
        showline=True, linewidth=2, linecolor="black", mirror=False,
        showgrid=False, zeroline=False, tickfont=tickfont, fixedrange=True)

annotations = []
title_y = [24, 534, 1042]
title_x = [332, 336, 335]
letter_y = [30, 537, 1041]
xtitle_y = [458, 935, 1452]
for i in range(3):
    annotations.append(dict(text=panel_titles[i], x=px(title_x[i]), y=py(title_y[i]),
                            xref="paper", yref="paper", showarrow=False,
                            xanchor="center", yanchor="middle",
                            font=dict(family=FONT, size=28, color="black")))
    annotations.append(dict(text=f"<b>{panel_letters[i]}</b>", x=px(22), y=py(letter_y[i]),
                            xref="paper", yref="paper", showarrow=False,
                            xanchor="center", yanchor="middle",
                            font=dict(family=FONT, size=28, color="black")))
    annotations.append(dict(text=x_title, x=px((plot_left[i] + plot_right[i]) / 2 + 3),
                            y=py(xtitle_y[i]), xref="paper", yref="paper", showarrow=False,
                            xanchor="center", yanchor="middle",
                            font=dict(family=FONT, size=28, color="black")))
    annotations.append(dict(text=y_title, x=px(21), y=py((plot_top[i] + plot_bottom[i]) / 2),
                            xref="paper", yref="paper", showarrow=False, textangle=-90,
                            xanchor="center", yanchor="middle",
                            font=dict(family=FONT, size=28, color="black")))

legend_pos = [None, (128, 800, 839), (126, 1297, 1340)]
for i in (1, 2):
    lx, y1, y2 = legend_pos[i]
    annotations.append(dict(text=f"<b>{legend_ordered}</b>", x=px(lx), y=py(y1),
                            xref="paper", yref="paper", showarrow=False,
                            xanchor="left", yanchor="middle",
                            font=dict(family=FONT, size=28, color=RED)))
    annotations.append(dict(text=f"<b>{legend_disordered}</b>", x=px(lx), y=py(y2),
                            xref="paper", yref="paper", showarrow=False,
                            xanchor="left", yanchor="middle",
                            font=dict(family=FONT, size=28, color=BLACK)))

fig.update_layout(
    width=W, height=H, margin=dict(l=0, r=0, t=0, b=0),
    paper_bgcolor="white", plot_bgcolor="white", showlegend=False,
    font=dict(family=FONT, color="black"),
    annotations=annotations, **layout_axes)

fig.write_html("out.html")
